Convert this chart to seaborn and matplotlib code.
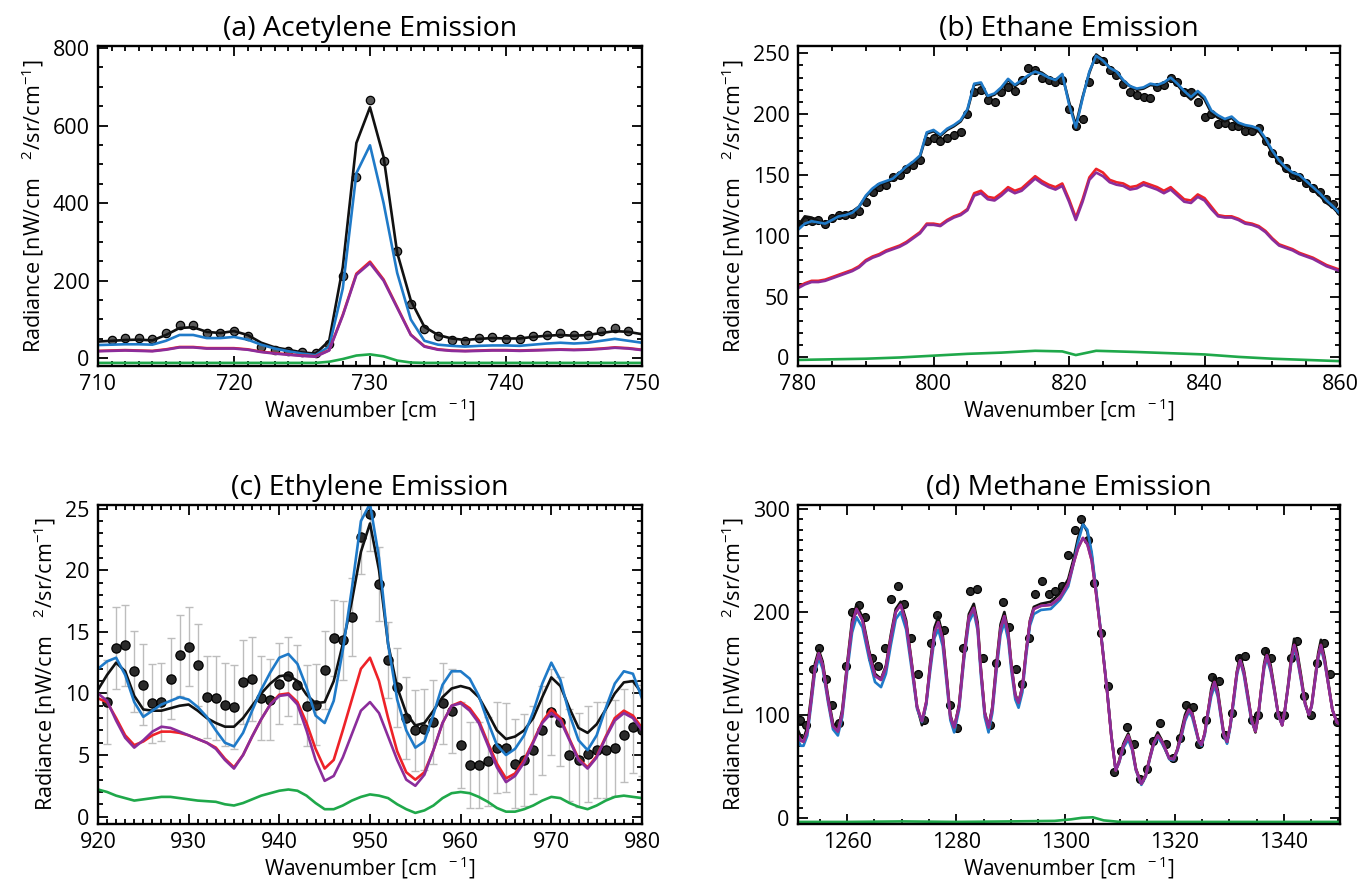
import matplotlib
matplotlib.use("Agg")
import matplotlib.pyplot as plt
from matplotlib.ticker import MultipleLocator
import pandas as pd
import seaborn as sns

# ---------------- (a) Acetylene ----------------
acet_obs_x = list(range(711, 750))
acet_obs_y = [47, 53, 53, 49, 66, 87, 85, 66, 64, 71,
              58, 30, 21, 19, 15, 13, 38, 213, 468, 665,
              508, 277, 140, 75, 58, 47, 44, 53, 55, 49,
              49, 58, 61, 64, 60, 60, 70, 77, 70]
acet_x = list(range(710, 751))
acet_black = [43, 45, 47, 48, 46, 60, 78, 80, 68, 65,
              70, 60, 40, 28, 22, 15, 12, 45, 235, 555,
              647, 519, 272, 149, 81, 60, 51, 47, 50, 52,
              51, 51, 55, 58, 60, 58, 60, 65, 70, 68, 62]
acet_blue = [34, 35, 36, 36, 35, 45, 60, 60, 52, 52,
             55, 48, 35, 25, 18, 12, 8, 30, 180, 477,
             549, 400, 220, 100, 45, 35, 32, 30, 32, 33,
             33, 32, 35, 38, 40, 38, 40, 45, 50, 45, 40]
acet_red = [19, 20, 21, 20, 19, 23, 29, 29, 26, 26,
            26, 23, 17, 13, 10, 7, 5, 21, 112, 218,
            249, 203, 132, 61, 31, 23, 20, 19, 20, 21,
            21, 20, 21, 22, 23, 22, 23, 25, 28, 26, 22]
acet_purple = [18, 19, 20, 19, 18, 22, 28, 28, 25, 25,
               25, 22, 16, 12, 9, 6, 4, 20, 110, 215,
               245, 200, 130, 60, 30, 22, 19, 18, 19, 20,
               20, 19, 20, 21, 22, 21, 22, 24, 27, 25, 21]
acet_green = [-12, -12, -12, -12, -12, -12, -12, -12, -12, -12,
              -12, -12, -12, -12, -12, -12, -12, -9, -2, 7,
              10, 5, -6, -11, -12, -12, -12, -12, -12, -12,
              -12, -12, -12, -12, -12, -12, -12, -12, -12, -12, -12]

# ---------------- (b) Ethane ----------------
eth_x = list(range(780, 861))
eth_obs = [110, 112, 112, 113, 110, 115, 117, 117, 118, 120,
           128, 136, 140, 142, 148, 150, 155, 158, 162, 178,
           180, 178, 180, 183, 185, 200, 218, 220, 212, 210,
           218, 222, 219, 228, 238, 236, 230, 228, 226, 228,
           204, 190, 196, 226, 245, 244, 236, 232, 225, 218,
           216, 214, 213, 222, 224, 230, 226, 218, 218, 210,
           198, 200, 192, 193, 190, 190, 186, 186, 189, 178,
           168, 162, 156, 150, 148, 143, 139, 136, 130, 126, 120]
eth_black = [108, 116, 115, 112, 110, 114, 117, 118, 120, 124,
             132, 138, 142, 144, 146, 151, 156, 160, 165, 184,
             186, 182, 187, 190, 194, 203, 224, 225, 214, 216,
             221, 228, 223, 227, 231, 236, 234, 230, 228, 232,
             210, 191, 214, 234, 249, 245, 238, 235, 227, 223,
             220, 221, 224, 223, 225, 230, 224, 217, 212, 217,
             212, 201, 197, 194, 197, 191, 190, 189, 186, 178,
             168, 160, 154, 150, 148, 143, 138, 133, 127, 123, 117]
eth_blue = [105, 110, 112, 111, 110, 113, 116, 117, 119, 124,
            133, 139, 143, 145, 147, 152, 157, 161, 166, 185,
            187, 183, 188, 191, 195, 204, 225, 226, 215, 217,
            222, 229, 224, 228, 232, 235, 233, 230, 228, 233,
            208, 189, 213, 235, 248, 244, 238, 235, 228, 223,
            221, 222, 225, 224, 226, 230, 225, 219, 214, 219,
            214, 203, 199, 196, 198, 193, 191, 190, 188, 180,
            170, 162, 156, 152, 150, 145, 140, 135, 129, 124, 118]
eth_red = [58, 61, 63, 63, 64, 66, 68, 70, 72, 75,
           80, 83, 85, 88, 90, 92, 95, 99, 103, 110,
           110, 109, 113, 116, 118, 122, 135, 137, 132, 131,
           135, 140, 137, 139, 144, 149, 145, 142, 140, 143,
           130, 115, 130, 148, 155, 152, 146, 144, 143, 140,
           141, 144, 142, 140, 137, 140, 135, 130, 129, 134,
           131, 124, 117, 116, 116, 114, 111, 110, 108, 104,
           98, 93, 91, 89, 86, 84, 82, 79, 76, 74, 72]
eth_purple = [57, 60, 62, 62, 63, 65, 67, 69, 71, 74,
              79, 82, 84, 87, 89, 91, 94, 98, 102, 109,
              109, 108, 112, 115, 117, 121, 133, 135, 130, 129,
              133, 138, 135, 137, 142, 147, 143, 140, 138, 141,
              128, 113, 128, 146, 152, 149, 144, 142, 141, 138,
              139, 142, 140, 138, 135, 138, 133, 128, 127, 132,
              129, 122, 116, 115, 115, 113, 110, 109, 107, 103,
              97, 92, 90, 88, 85, 83, 81, 78, 75, 73, 71]
eth_green_x = [780, 785, 790, 795, 800, 805, 810, 815, 819, 821,
               824, 830, 835, 840, 845, 850, 855, 860]
eth_green = [-2, -1.5, -1, 0, 1.5, 3, 4, 5.5, 5, 2,
             5.5, 4.5, 3.5, 2.5, 0.5, -1, -2, -3]

# ---------------- (c) Ethylene ----------------
ethy_obs_x = list(range(921, 981))
ethy_obs = [9.3, 13.7, 13.9, 11.8, 10.7, 9.2, 9.3, 11.2, 13.1, 13.8,
            12.3, 9.7, 9.6, 9.1, 8.9, 10.9, 11.2, 9.6, 9.5, 10.8,
            11.4, 10.7, 9.0, 9.1, 11.9, 14.5, 14.3, 16.2, 22.7, 24.6,
            18.9, 12.7, 10.5, 8.0, 7.0, 7.1, 7.7, 9.2, 8.6, 5.8,
            4.2, 4.2, 4.5, 5.6, 5.6, 4.3, 4.6, 5.4, 7.0, 8.5,
            7.7, 5.0, 4.6, 5.1, 5.4, 5.4, 5.6, 6.6, 7.3, 7.0]
ethy_err = [3.4, 3.3, 3.3, 3.3, 3.3, 3.2, 3.2, 3.3, 3.3, 3.2,
            3.3, 3.3, 3.4, 3.4, 3.4, 3.4, 3.4, 3.4, 3.3, 3.3,
            3.2, 3.2, 3.3, 3.3, 3.2, 3.1, 3.2, 3.2, 3.0, 3.0,
            3.0, 3.1, 3.2, 3.3, 3.3, 3.3, 3.4, 3.3, 3.4, 3.5,
            3.5, 3.5, 3.6, 3.7, 3.6, 3.6, 3.7, 3.6, 3.6, 3.5,
            3.6, 3.7, 3.8, 3.9, 3.9, 3.9, 3.9, 3.8, 3.8, 3.7]
ethy_x = list(range(920, 981))
ethy_black = [10.3, 11.5, 12.5, 11.8, 9.8, 8.7, 8.6, 8.6, 8.8, 9.0,
              9.1, 8.6, 8.0, 7.6, 7.3, 7.3, 8.0, 9.0, 10.0, 10.8,
              11.4, 11.5, 11.0, 9.9, 9.2, 9.3, 11.0, 14.0, 17.5, 21.5,
              23.8, 20.0, 14.0, 10.5, 8.4, 7.4, 7.6, 8.6, 9.7, 10.4,
              10.6, 10.4, 9.7, 8.4, 7.0, 6.3, 6.5, 7.0, 8.0, 9.7,
              11.3, 10.6, 8.8, 7.2, 6.8, 7.5, 8.7, 10.0, 10.9, 11.0, 10.0]
ethy_blue = [12.0, 12.6, 12.9, 11.5, 9.3, 8.1, 8.6, 9.1, 9.4, 9.7,
             9.5, 8.9, 8.1, 7.0, 6.0, 5.7, 6.8, 8.6, 10.3, 11.7,
             12.9, 13.2, 12.4, 10.5, 8.2, 7.6, 9.4, 13.5, 18.5, 24.0,
             25.4, 21.0, 14.0, 9.5, 7.0, 5.6, 6.1, 8.3, 10.7, 11.8,
             11.8, 11.2, 9.8, 7.7, 5.8, 5.0, 5.5, 6.6, 8.5, 10.8,
             12.5, 11.1, 8.3, 6.2, 5.4, 6.6, 8.8, 10.8, 11.8, 11.6, 9.6]
ethy_red = [9.6, 9.3, 8.0, 6.6, 5.8, 6.1, 6.6, 6.9, 6.9, 6.8,
            6.6, 6.3, 6.0, 5.6, 4.7, 4.0, 5.0, 6.5, 7.9, 9.1,
            9.9, 10.0, 9.3, 7.6, 5.5, 3.9, 4.6, 7.0, 9.5, 12.0,
            12.9, 11.0, 8.0, 5.3, 3.6, 3.0, 3.6, 5.4, 7.6, 9.0,
            9.3, 8.8, 7.8, 6.0, 4.3, 3.1, 3.5, 4.6, 6.1, 7.7,
            8.7, 8.0, 6.3, 4.7, 4.0, 4.9, 6.5, 8.0, 8.6, 8.2, 7.2]
ethy_purple = [10.0, 9.4, 7.8, 6.4, 5.6, 6.2, 6.9, 7.3, 7.2, 6.9,
               6.6, 6.3, 6.0, 5.5, 4.6, 3.9, 5.0, 6.5, 7.9, 9.1,
               9.8, 9.9, 9.1, 7.0, 4.6, 2.9, 3.3, 4.8, 6.7, 8.6,
               9.3, 8.4, 6.5, 4.6, 3.0, 2.5, 3.4, 5.4, 7.6, 9.0,
               9.2, 8.6, 7.6, 5.8, 4.0, 2.8, 3.3, 4.4, 6.0, 7.6,
               8.4, 7.8, 6.2, 4.6, 3.9, 4.8, 6.4, 7.8, 8.4, 8.0, 7.0]
ethy_green = [2.2, 2.0, 1.7, 1.5, 1.3, 1.4, 1.5, 1.6, 1.6, 1.5,
              1.4, 1.3, 1.25, 1.2, 1.0, 0.9, 1.1, 1.4, 1.7, 1.9,
              2.1, 2.2, 2.1, 1.7, 1.1, 0.6, 0.6, 0.9, 1.3, 1.6,
              1.8, 1.7, 1.5, 1.0, 0.6, 0.3, 0.5, 0.9, 1.5, 1.9,
              2.0, 1.9, 1.6, 1.2, 0.7, 0.4, 0.4, 0.6, 0.9, 1.3,
              1.6, 1.5, 1.1, 0.8, 0.6, 0.9, 1.3, 1.6, 1.7, 1.6, 1.5]

# ---------------- (d) Methane ----------------
meth_x = [1251.0, 1251.5, 1252.0, 1252.7, 1253.4, 1254.1, 1254.8, 1255.5, 1256.5, 1257.4,
          1258.3, 1259.1, 1260.0, 1260.9, 1261.7, 1262.8, 1264.0, 1265.1, 1266.2, 1267.1,
          1268.0, 1268.9, 1269.8, 1270.8, 1271.8, 1272.8, 1273.7, 1274.5, 1275.2, 1276.0,
          1276.7, 1277.5, 1278.2, 1278.9, 1279.6, 1280.5, 1281.4, 1282.3, 1283.2, 1283.9,
          1284.5, 1285.2, 1285.9, 1286.6, 1287.3, 1288.1, 1288.8, 1289.5, 1290.1, 1290.8,
          1291.4, 1292.1, 1292.8, 1293.5, 1294.2, 1295.5, 1297.3, 1299.0, 1300.5, 1301.4,
          1302.3, 1303.2, 1304.0, 1304.8, 1305.6, 1306.4, 1307.6, 1308.4, 1309.2, 1309.8,
          1310.6, 1311.5, 1312.2, 1312.9, 1313.9, 1314.7, 1315.4, 1316.2, 1316.9, 1317.6,
          1318.3, 1319.0, 1319.8, 1320.5, 1321.2, 1321.9, 1322.6, 1323.2, 1323.8, 1324.4,
          1324.9, 1325.5, 1326.1, 1326.7, 1327.3, 1327.9, 1328.4, 1329.0, 1329.6, 1330.2,
          1330.8, 1331.4, 1332.0, 1332.7, 1333.4, 1334.1, 1334.8, 1335.3, 1335.8, 1336.4,
          1336.9, 1337.6, 1338.3, 1339.0, 1339.7, 1340.2, 1340.8, 1341.4, 1341.9, 1342.5,
          1343.2, 1343.9, 1344.6, 1345.1, 1345.7, 1346.3, 1346.8, 1347.5, 1348.2, 1348.9,
          1349.7, 1350.5]
meth_black = [85, 79, 77, 88, 118, 150, 163, 152, 118, 92,
              85, 105, 150, 192, 207, 195, 163, 140, 135, 148,
              178, 203, 210, 192, 152, 108, 90, 112, 150, 185,
              195, 178, 140, 100, 87, 110, 160, 198, 208, 190,
              145, 103, 88, 108, 148, 188, 200, 182, 148, 120,
              112, 128, 163, 192, 205, 208, 210, 218, 232, 250,
              272, 286, 278, 255, 220, 183, 125, 80, 46, 55,
              72, 82, 70, 48, 33, 42, 58, 75, 83, 76,
              66, 58, 57, 67, 84, 100, 109, 103, 88, 75,
              70, 82, 103, 125, 137, 124, 105, 82, 73, 90,
              115, 142, 158, 143, 120, 95, 83, 98, 123, 150,
              163, 148, 125, 100, 90, 105, 130, 158, 174, 160,
              137, 112, 99, 110, 135, 160, 173, 155, 130, 105,
              93, 90]
meth_blue = [75, 70, 70, 80, 110, 142, 155, 145, 112, 86,
             80, 98, 142, 180, 195, 185, 155, 132, 127, 140,
             168, 193, 200, 183, 145, 106, 93, 110, 142, 175,
             183, 167, 132, 95, 83, 105, 153, 190, 200, 182,
             138, 98, 83, 102, 140, 178, 190, 173, 142, 115,
             107, 122, 158, 187, 198, 202, 203, 212, 225, 245,
             268, 285, 280, 258, 222, 185, 125, 80, 46, 53,
             68, 76, 66, 46, 32, 40, 56, 72, 78, 73,
             66, 57, 56, 65, 78, 94, 103, 98, 86, 74,
             70, 80, 100, 118, 128, 118, 100, 80, 72, 88,
             112, 138, 153, 138, 115, 93, 85, 98, 120, 145,
             155, 142, 122, 99, 90, 104, 128, 152, 165, 153,
             132, 110, 100, 108, 132, 155, 165, 150, 128, 105,
             93, 90]
meth_purple = [80, 75, 74, 84, 114, 146, 160, 149, 115, 89,
               84, 102, 147, 188, 203, 192, 160, 138, 134, 146,
               175, 200, 207, 189, 150, 108, 94, 113, 147, 180,
               190, 174, 137, 98, 88, 108, 157, 195, 204, 186,
               143, 102, 88, 106, 145, 184, 196, 179, 147, 119,
               112, 127, 162, 191, 203, 206, 207, 214, 228, 246,
               262, 272, 266, 250, 218, 183, 124, 79, 46, 54,
               70, 80, 68, 47, 33, 41, 57, 73, 80, 75,
               67, 58, 57, 66, 80, 97, 105, 101, 89, 75,
               71, 82, 103, 122, 132, 121, 103, 81, 74, 90,
               116, 141, 153, 141, 118, 95, 84, 99, 122, 148,
               158, 145, 123, 100, 90, 105, 128, 155, 168, 156,
               134, 111, 100, 109, 133, 157, 168, 152, 128, 105,
               93, 90]
meth_obs_x = [1251.3, 1252.5, 1253.7, 1254.9, 1256.1, 1257.3, 1258.5, 1259.7, 1260.9, 1262.1,
              1263.3, 1264.5, 1265.7, 1266.9, 1268.1, 1269.3, 1270.5, 1271.7, 1272.9, 1274.1,
              1275.3, 1276.5, 1277.7, 1278.9, 1280.1, 1281.3, 1282.5, 1283.7, 1284.9, 1286.1,
              1287.3, 1288.5, 1289.7, 1290.9, 1292.1, 1293.3, 1294.5, 1295.7, 1296.9, 1298.1,
              1299.3, 1300.5, 1301.7, 1302.9, 1304.1, 1305.3, 1306.5, 1307.7, 1308.9, 1310.1,
              1311.3, 1312.5, 1313.7, 1314.9, 1316.1, 1317.3, 1318.5, 1319.7, 1320.9, 1322.1,
              1323.3, 1324.5, 1325.7, 1326.9, 1328.1, 1329.3, 1330.5, 1331.7, 1332.9, 1334.1,
              1335.3, 1336.5, 1337.7, 1338.9, 1340.1, 1341.3, 1342.5, 1343.7, 1344.9, 1346.1,
              1347.3, 1348.5, 1349.7]
meth_obs = [95, 90, 145, 165, 135, 110, 92, 148, 200, 207,
            195, 155, 148, 165, 213, 225, 208, 175, 140, 95,
            170, 197, 183, 110, 87, 165, 220, 222, 155, 90,
            150, 210, 185, 145, 130, 175, 218, 230, 218, 220,
            225, 255, 280, 290, 270, 228, 180, 128, 45, 65,
            88, 72, 38, 47, 75, 92, 72, 58, 78, 110,
            108, 72, 95, 137, 133, 80, 102, 155, 157, 95,
            100, 162, 155, 100, 100, 155, 172, 118, 100, 150,
            170, 140, 93]
meth_green_x = [1251, 1260, 1270, 1280, 1290, 1298, 1301, 1303, 1305, 1307,
                1310, 1320, 1330, 1340, 1350.5]
meth_green = [-4, -4, -3.5, -4, -3.5, -3, -1.5, 0, 0.5, -2.5,
              -4, -4, -4, -4, -4]

COL_BLACK = "#111111"
COL_BLUE = "#1f7ac8"
COL_RED = "#ee2228"
COL_PURPLE = "#8b2d9b"
COL_GREEN = "#1fa84a"
LW = 1.9

sns.set_style("ticks")
plt.rcParams["font.family"] = ["Open Sans", "DejaVu Sans"]
plt.rcParams["mathtext.fontset"] = "custom"
plt.rcParams["mathtext.rm"] = "Open Sans"
plt.rcParams["mathtext.it"] = "Open Sans"
plt.rcParams["mathtext.bf"] = "Open Sans:bold"
for key in ("text.color", "axes.labelcolor", "xtick.color", "ytick.color"):
    plt.rcParams[key] = "black"

fig = plt.figure(figsize=(13.57, 8.86), dpi=100)
pos = {
    "a": [0.0722, 0.5869, 0.4009, 0.3612],
    "b": [0.5881, 0.5869, 0.3994, 0.3612],
    "c": [0.0722, 0.0700, 0.4009, 0.3600],
    "d": [0.5881, 0.0700, 0.3994, 0.3600],
}

XLABEL = r"Wavenumber [cm$^{\ \ -1}$]"
YLABEL = r"Radiance [nW/cm$^{\ \ \ \ 2}$/sr/cm$^{-1}$]"


def draw_line(ax, x, y, color):
    df = pd.DataFrame({"x": x, "y": y})
    sns.lineplot(data=df, x="x", y="y", color=color, lw=LW, ax=ax,
                 estimator=None, sort=False)


def draw_obs(ax, x, y, face="#2a2a2a", size=32):
    df = pd.DataFrame({"x": x, "y": y})
    sns.scatterplot(data=df, x="x", y="y", ax=ax, s=size, color=face,
                    edgecolor="black", linewidth=0.9, zorder=2)


def style(ax, title, xlim, ylim, xmaj, xmin, ymaj, ymin):
    ax.set_xlim(*xlim)
    ax.set_ylim(*ylim)
    ax.xaxis.set_major_locator(MultipleLocator(xmaj))
    ax.xaxis.set_minor_locator(MultipleLocator(xmin))
    ax.yaxis.set_major_locator(MultipleLocator(ymaj))
    ax.yaxis.set_minor_locator(MultipleLocator(ymin))
    ax.tick_params(which="both", direction="in", top=True, right=True,
                   width=1.3, color="black", labelsize=15.5)
    ax.tick_params(which="major", length=7, pad=6)
    ax.tick_params(which="minor", length=3.5)
    for sp in ax.spines.values():
        sp.set_linewidth(1.7)
        sp.set_color("black")
    ax.set_title(title, fontsize=20.5, pad=7)
    ax.set_xlabel(XLABEL, fontsize=15, labelpad=1)
    ax.set_ylabel(YLABEL, fontsize=15.5, labelpad=5)


# (a)
ax = fig.add_axes(pos["a"])
draw_obs(ax, acet_obs_x, acet_obs_y, face="#5a5a5a", size=36)
draw_line(ax, acet_x, acet_black, COL_BLACK)
draw_line(ax, acet_x, acet_blue, COL_BLUE)
draw_line(ax, acet_x, acet_red, COL_RED)
draw_line(ax, acet_x, acet_purple, COL_PURPLE)
draw_line(ax, acet_x, acet_green, COL_GREEN)
style(ax, "(a) Acetylene Emission", (710, 750), (-20, 805), 10, 1, 200, 50)

# (b)
ax = fig.add_axes(pos["b"])
draw_obs(ax, eth_x, eth_obs)
draw_line(ax, eth_x, eth_black, COL_BLACK)
draw_line(ax, eth_x, eth_blue, COL_BLUE)
draw_line(ax, eth_x, eth_red, COL_RED)
draw_line(ax, eth_x, eth_purple, COL_PURPLE)
draw_line(ax, eth_green_x, eth_green, COL_GREEN)
style(ax, "(b) Ethane Emission", (780, 860), (-7, 256), 20, 5, 50, 10)

# (c)
ax = fig.add_axes(pos["c"])
ax.errorbar(ethy_obs_x, ethy_obs, yerr=ethy_err, fmt="none", ecolor="#bdbdbd",
            elinewidth=1.0, capsize=3, capthick=1.0, zorder=1)
draw_obs(ax, ethy_obs_x, ethy_obs, size=44)
draw_line(ax, ethy_x, ethy_black, COL_BLACK)
draw_line(ax, ethy_x, ethy_blue, COL_BLUE)
draw_line(ax, ethy_x, ethy_red, COL_RED)
draw_line(ax, ethy_x, ethy_purple, COL_PURPLE)
draw_line(ax, ethy_x, ethy_green, COL_GREEN)
style(ax, "(c) Ethylene Emission", (920, 980), (-0.6, 25.3), 10, 1, 5, 1)

# (d)
ax = fig.add_axes(pos["d"])
draw_obs(ax, meth_obs_x, meth_obs)
draw_line(ax, meth_x, meth_black, COL_BLACK)
draw_line(ax, meth_x, meth_blue, COL_BLUE)
draw_line(ax, meth_x, meth_purple, COL_RED)
draw_line(ax, meth_x, meth_purple, COL_PURPLE)
draw_line(ax, meth_green_x, meth_green, COL_GREEN)
style(ax, "(d) Methane Emission", (1251, 1350.3), (-6, 304), 20, 5, 100, 10)

fig.savefig("out.png", dpi=100)
